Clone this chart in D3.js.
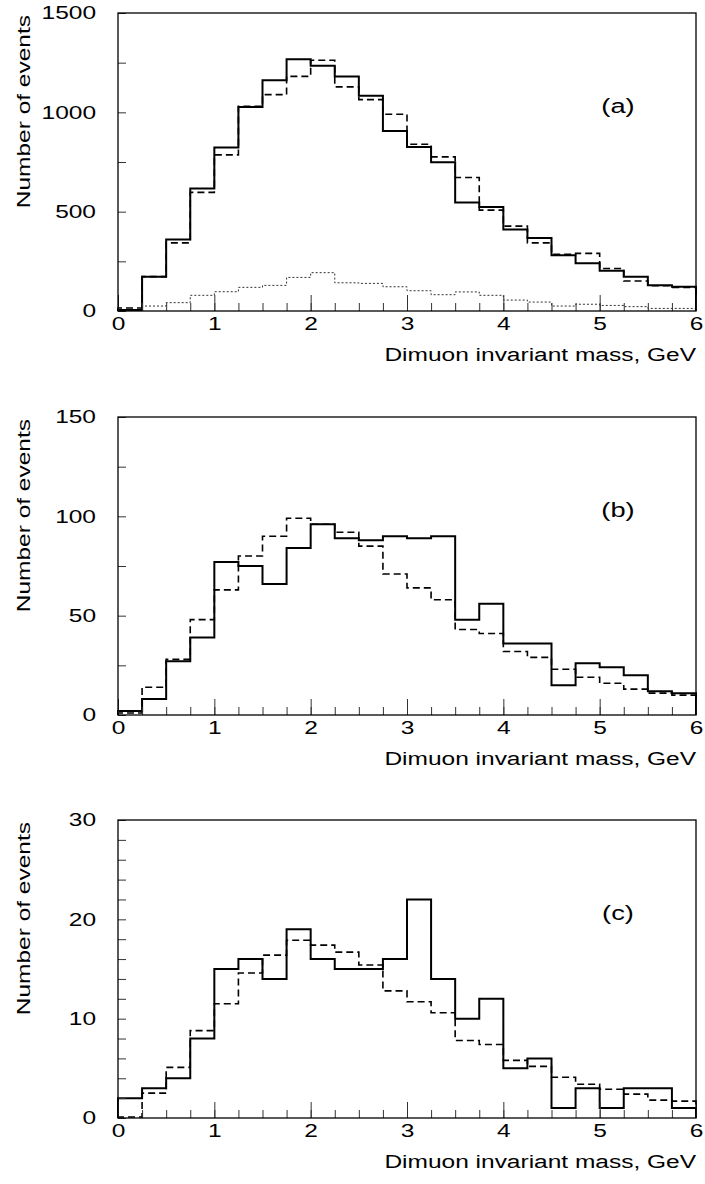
<!DOCTYPE html>
<html>

<head>
  <meta charset="utf8">
  <script src="https://d3js.org/d3.v7.min.js"></script>
  <style>
    body {
      margin: 0;
      background: #fff;
    }

    text {
      font-family: "Liberation Sans", Arial, sans-serif;
      fill: #000;
    }

    .axis text {
      font-size: 18px;
    }

    .axis line {
      stroke: #333;
      stroke-width: 1;
    }

    .frame {
      fill: none;
      stroke: #000;
      stroke-width: 1.3;
    }

    .solid {
      fill: none;
      stroke: #000;
      stroke-width: 2;
    }

    .dashed {
      fill: none;
      stroke: #000;
      stroke-width: 1.6;
      stroke-dasharray: 7 4;
    }

    .dotted {
      fill: none;
      stroke: #333;
      stroke-width: 1;
      stroke-dasharray: 2 2;
    }
  </style>
</head>

<body>
  <svg id="chart" width="705" height="1184"></svg>
  <script>
    // lower edges of the 0.25 GeV bins
    var binStart = [0, 0.25, 0.5, 0.75, 1, 1.25, 1.5, 1.75, 2, 2.25, 2.5, 2.75,
      3, 3.25, 3.5, 3.75, 4, 4.25, 4.5, 4.75, 5, 5.25, 5.5, 5.75];
    var binWidth = 0.25;
    var massTicks = [0, 1, 2, 3, 4, 5, 6];

    // panel (a)
    var solidA = [5, 173, 360, 617, 823, 1027, 1161, 1267, 1235, 1180, 1084, 906,
      826, 749, 546, 524, 410, 367, 280, 240, 203, 173, 129, 122];
    var dashedA = [15, 173, 343, 597, 786, 1030, 1089, 1181, 1262, 1128, 1064, 990,
      839, 776, 672, 508, 427, 343, 285, 290, 214, 151, 127, 119];
    var dottedA = [5, 25, 42, 79, 97, 119, 129, 169, 193, 142, 139, 122,
      102, 82, 96, 79, 55, 45, 25, 34, 28, 22, 13, 13];
    var yTicksA = [0, 250, 500, 750, 1000, 1250, 1500];
    var yLabelsA = [0, 500, 1000, 1500];

    // panel (b)
    var solidB = [2, 8, 27, 39, 77, 75, 66, 84, 96, 89, 88, 90,
      89, 90, 48, 56, 36, 36, 15, 26, 24, 20, 12, 11];
    var dashedB = [1, 14, 28, 48, 63, 80, 90, 99, 96, 92, 85, 71,
      64, 58, 43, 41, 32, 29, 23, 19, 16, 13, 11, 10];
    var yTicksB = [0, 25, 50, 75, 100, 125, 150];
    var yLabelsB = [0, 50, 100, 150];

    // panel (c)
    var solidC = [2, 3, 4, 8, 15, 16, 14, 19, 16, 15, 15, 16,
      22, 14, 10, 12, 5, 6, 1, 3, 1, 3, 3, 1];
    var dashedC = [0.1, 2.5, 5.1, 8.8, 11.5, 14.6, 16.4, 17.9, 17.4, 16.7, 15.4, 12.8,
      11.7, 10.6, 7.8, 7.4, 5.8, 5.2, 4.1, 3.4, 2.9, 2.4, 1.8, 1.7];
    var yTicksC = [0, 2, 4, 6, 8, 10, 12, 14, 16, 18, 20, 22, 24, 26, 28, 30];
    var yLabelsC = [0, 10, 20, 30];

    var panels = [
      { tag: '(a)', top: 13, max: 1500, yTicks: yTicksA, yLabels: yLabelsA, solid: solidA, dashed: dashedA, dotted: dottedA },
      { tag: '(b)', top: 417, max: 150, yTicks: yTicksB, yLabels: yLabelsB, solid: solidB, dashed: dashedB },
      { tag: '(c)', top: 820, max: 30, yTicks: yTicksC, yLabels: yLabelsC, solid: solidC, dashed: dashedC }
    ];

    var chart = d3.select('#chart');
    var left = 118, right = 696, panelHeight = 298;

    var x = d3.scaleLinear().domain([0, 6]).range([0, right - left]);

    panels.forEach((p) => {
      var y = d3.scaleLinear().domain([0, p.max]).range([panelHeight, 0]);
      var g = chart.append('g')
        .attr('transform', 'translate(' + left + ',' + p.top + ')');

      // histogram outline: baseline -> bins -> baseline
      var line = d3.line()
        .x((d) => x(d[0]))
        .y((d) => y(d[1]))
        .curve(d3.curveStepAfter);

      var steps = (vals) => {
        var pts = [[binStart[0], 0]];
        vals.forEach((v, i) => pts.push([binStart[i], v]));
        pts.push([binStart[vals.length - 1] + binWidth, vals[vals.length - 1]]);
        pts.push([binStart[vals.length - 1] + binWidth, 0]);
        return pts;
      };

      if (p.dotted) {
        g.append('path').attr('class', 'dotted').attr('d', line(steps(p.dotted)));
      }
      g.append('path').attr('class', 'dashed').attr('d', line(steps(p.dashed)));
      g.append('path').attr('class', 'solid').attr('d', line(steps(p.solid)));

      // y axis, ticks pointing inward
      g.append('g')
        .attr('class', 'axis')
        .call(d3.axisLeft(y)
          .tickValues(p.yTicks)
          .tickSizeInner(-8)
          .tickSizeOuter(0)
          .tickPadding(22)
          .tickFormat((d) => p.yLabels.indexOf(d) >= 0 ? d : ''))
        .call((a) => a.select('.domain').remove());

      // x axis: short ticks at bin edges, long ones at integers
      g.append('g')
        .attr('class', 'axis')
        .attr('transform', 'translate(0,' + panelHeight + ')')
        .call(d3.axisBottom(x)
          .tickValues(binStart)
          .tickSizeInner(-8)
          .tickSizeOuter(0)
          .tickFormat(''))
        .call((a) => a.select('.domain').remove());

      g.append('g')
        .attr('class', 'axis')
        .attr('transform', 'translate(0,' + panelHeight + ')')
        .call(d3.axisBottom(x)
          .tickValues(massTicks)
          .tickSizeInner(-16)
          .tickSizeOuter(0)
          .tickPadding(6)
          .tickFormat(d3.format('d')))
        .call((a) => a.select('.domain').remove());

      g.append('rect')
        .attr('class', 'frame')
        .attr('width', right - left)
        .attr('height', panelHeight);

      g.append('text')
        .attr('class', 'title')
        .attr('x', right - left)
        .attr('y', panelHeight + 50)
        .attr('text-anchor', 'end')
        .style('font-size', '18px')
        .text('Dimuon invariant mass, GeV');

      g.append('text')
        .attr('class', 'title')
        .attr('transform', 'translate(' + (30 - left) + ',2) rotate(-90)')
        .attr('text-anchor', 'end')
        .style('font-size', '18px')
        .text('Number of events');

      g.append('text')
        .attr('x', x(5.19))
        .attr('y', 100)
        .attr('text-anchor', 'middle')
        .style('font-size', '20px')
        .text(p.tag);
    });

    // the original lettering is much wider than Arial
    chart.selectAll('text').each(function () {
      var w = this.getComputedTextLength();
      if (w > 0) {
        d3.select(this)
          .attr('textLength', w * 1.36)
          .attr('lengthAdjust', 'spacingAndGlyphs');
      }
    });
  </script>
</body>

</html>
